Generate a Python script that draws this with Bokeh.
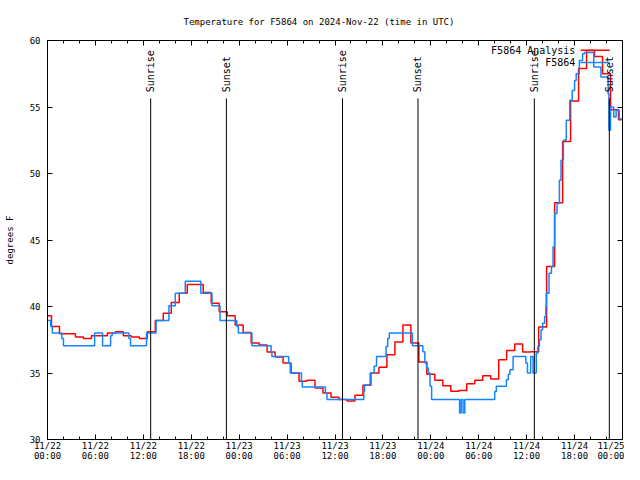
import math
from bokeh.plotting import figure
from bokeh.models import FixedTicker, LinearAxis
from bokeh.core.properties import value
from bokeh.embed import file_html
from bokeh.resources import INLINE

title_text = "Temperature for F5864 on 2024-Nov-22 (time in UTC)"
y_label = "degrees F"

tick_hours = [0, 6, 12, 18, 24, 30, 36, 42, 48, 54, 60, 66, 72]
tick_labels = ["11/22\n00:00", "11/22\n06:00", "11/22\n12:00", "11/22\n18:00",
               "11/23\n00:00", "11/23\n06:00", "11/23\n12:00", "11/23\n18:00",
               "11/24\n00:00", "11/24\n06:00", "11/24\n12:00", "11/24\n18:00",
               "11/25\n00:00"]
minor_hours = list(range(0, 73, 2))
y_ticks = [30, 35, 40, 45, 50, 55, 60]

# Analysis (hourly), hours since 2024-11-22 00:00 UTC
analysis_hours = list(range(73))
analysis_temp = [39.3, 38.5, 37.95, 37.95, 37.7, 37.6, 37.8, 37.8, 38.0, 38.1,
                 37.8, 37.7, 37.6, 38.1, 38.95, 39.5, 40.3, 41.0, 41.65, 41.65,
                 41.05, 40.25, 39.6, 39.3, 38.6, 38.05, 37.25, 37.1, 36.57, 36.2,
                 35.75, 35.0, 34.38, 34.45, 33.88, 33.5, 33.17, 33.0, 32.9, 33.33,
                 34.08, 35.0, 35.43, 36.38, 37.33, 38.6, 37.25, 35.83, 34.9, 34.45,
                 34.05, 33.63, 33.68, 34.2, 34.45, 34.8, 34.55, 36.0, 36.7, 37.18,
                 36.57, 36.6, 38.45, 43.0, 47.8, 52.4, 55.45, 57.9, 59.25, 58.8,
                 57.5, 54.8, 54.05]

# Station observations (change points)
obs_hours = [0.0, 0.4, 0.6, 1.8, 2.0, 5.9, 6.9, 7.9, 8.1, 10.2, 10.4, 12.4, 13.6,
             15.2, 16.0, 17.25, 19.2, 20.6, 21.6, 23.7, 23.9, 25.6, 28.0, 28.1,
             30.2, 30.4, 31.8, 31.9, 34.8, 35.0, 39.6, 39.7, 40.4, 40.9, 41.2,
             42.4, 42.6, 42.8, 45.7, 47.0, 47.25, 47.46, 47.67, 47.9, 48.1,
             51.6, 51.8, 52.04, 52.25, 56.0, 56.2, 57.46, 57.7, 57.9, 58.3,
             59.9, 60.1, 60.5, 60.8, 61.2, 61.4, 61.6, 61.8, 62.0, 62.25, 62.4,
             62.45, 62.8, 63.1, 63.3, 63.5, 63.8, 64.1, 64.3, 64.6, 64.96, 65.4,
             65.7, 66.0, 66.2, 66.6, 67.0, 67.25, 68.4, 69.3, 70.2, 70.3, 70.5,
             70.9, 71.2, 71.6, 72.0]
obs_temp = [38.95, 38.5, 38.0, 37.6, 37.05, 38.0, 37.05, 37.8, 38.0, 37.6, 37.05,
            38.0, 38.95, 40.05, 41.0, 41.9, 41.0, 40.05, 38.95, 38.5, 38.0, 37.05,
            36.6, 36.25, 35.75, 35.0, 34.4, 33.95, 33.5, 33.0, 33.6, 34.1, 35.0,
            35.5, 36.25, 37.0, 37.6, 38.0, 37.05, 36.6, 35.75, 35.4, 35.0, 34.0,
            33.0, 32.0, 33.0, 32.0, 33.0, 33.6, 34.0, 34.5, 34.9, 35.25, 36.25,
            35.75, 35.0, 36.25, 35.0, 36.5, 37.0, 37.5, 38.25, 38.75, 39.25, 40.0,
            41.0, 42.5, 43.0, 44.5, 47.0, 47.75, 49.5, 51.0, 52.5, 54.0, 55.5,
            56.25, 57.0, 57.5, 58.5, 59.0, 59.1, 58.0, 57.25, 56.0, 53.25, 55.0,
            54.25, 54.75, 54.1, 54.1]

sun_hours = [12.92, 22.40, 36.94, 46.39, 60.96, 70.35]
sun_labels = ["Sunrise", "Sunset", "Sunrise", "Sunset", "Sunrise", "Sunset"]

legend_labels = ["F5864 Analysis", "F5864"]
series_colors = ["#ff0000", "#1485ff"]

MONO = "DejaVu Sans Mono"

p = figure(width=624, height=464,
           x_range=(0, 72), y_range=(30, 60),
           output_backend="svg", toolbar_location=None,
           min_border_left=47, min_border_right=2, min_border_top=40,
           min_border_bottom=24, x_axis_type=None, y_axis_type=None)
p.grid.visible = False
p.outline_line_color = "black"
p.outline_line_width = 1
p.background_fill_color = "white"
p.border_fill_color = "white"

p.title.text = title_text
p.title.align = "left"
p.title.offset = 136
p.title.text_font = MONO
p.title.text_font_size = "9px"
p.title.text_font_style = "normal"
p.title.text_color = "black"
p.title.standoff = 28

xt = FixedTicker(ticks=tick_hours, minor_ticks=minor_hours)
yt = FixedTicker(ticks=y_ticks, minor_ticks=[])


def style_axis(ax, labels=True, ticks=()):
    ax.axis_line_color = "black"
    ax.major_tick_in = 5
    ax.major_tick_out = 0
    ax.minor_tick_in = 3
    ax.minor_tick_out = 0
    ax.major_tick_line_color = "black"
    ax.minor_tick_line_color = "black"
    ax.major_label_text_font = MONO
    ax.major_label_text_font_size = "9px"
    ax.major_label_text_color = "black"
    if not labels:
        ax.major_label_overrides = {t: "" for t in ticks}
        ax.major_label_standoff = 0


xb = LinearAxis(ticker=xt)
style_axis(xb)
xb.major_label_overrides = {h: lab for h, lab in zip(tick_hours, tick_labels)}
xb.major_label_standoff = 1
xb.major_label_text_line_height = 1.05
p.add_layout(xb, "below")

xa = LinearAxis(ticker=xt)
style_axis(xa, labels=False, ticks=tick_hours)
p.add_layout(xa, "above")

yl = LinearAxis(ticker=yt)
style_axis(yl)
yl.major_label_standoff = 7
yl.axis_label = y_label
yl.axis_label_text_font = MONO
yl.axis_label_text_font_size = "9px"
yl.axis_label_text_font_style = "normal"
yl.axis_label_text_color = "black"
yl.axis_label_standoff = 12
p.add_layout(yl, "left")

yr = LinearAxis(ticker=yt)
style_axis(yr, labels=False, ticks=y_ticks)
p.add_layout(yr, "right")

# data
p.step(analysis_hours, analysis_temp, mode="center", line_color=series_colors[0], line_width=1.5)
p.step(obs_hours, obs_temp, mode="after", line_color=series_colors[1], line_width=1.5)

# sunrise / sunset markers
p.segment(x0=sun_hours, y0=[30] * len(sun_hours), x1=sun_hours, y1=[55.65] * len(sun_hours),
          line_color="black", line_width=1)
p.text(x=sun_hours, y=[56.1] * len(sun_hours), text=sun_labels, angle=math.pi / 2,
       text_align="left", text_baseline="middle", text_font=value(MONO),
       text_font_size="10px", text_color="black")

# legend (gnuplot style: label then sample line)
leg_y = [59.27, 58.35]
p.text(x=[66.1, 66.1], y=leg_y, text=legend_labels, text_align="right",
       text_baseline="middle", text_font=value(MONO), text_font_size="10px",
       text_color="black")
p.segment(x0=[66.75, 66.75], y0=leg_y, x1=[70.4, 70.4], y1=leg_y,
          line_color=series_colors, line_width=1.5)

open("out.html", "w").write(file_html(p, INLINE))
